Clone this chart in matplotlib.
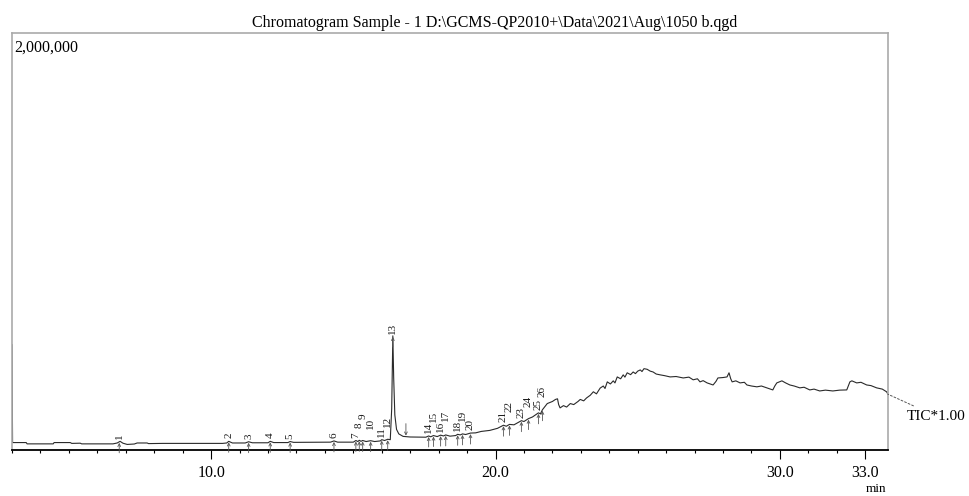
import numpy as np
import matplotlib
matplotlib.use("Agg")
import matplotlib.pyplot as plt
from matplotlib.ticker import MultipleLocator

plt.rcParams["font.family"] = ["Liberation Serif", "DejaVu Serif"]

# TIC trace (retention time in min, counts)
rt_min = [3.00, 3.02, 3.50, 3.53, 4.45, 4.48, 5.05, 5.10, 5.40, 5.45, 6.55, 6.70, 6.80, 6.90,
          7.05, 7.30, 7.40, 7.75, 7.80, 8.30, 10.40, 10.55, 10.62, 10.75, 11.20, 11.32, 11.45,
          12.00, 12.08, 12.20, 12.70, 12.78, 12.90, 14.20, 14.32, 14.45, 15.00, 15.09, 15.16,
          15.21, 15.27, 15.33, 15.45, 15.61, 15.75, 15.95, 16.00, 16.10, 16.21, 16.30, 16.35,
          16.39, 16.42, 16.46, 16.52, 16.60, 16.75, 17.00, 17.55, 17.65, 17.72, 17.82, 17.95,
          18.07, 18.17, 18.25, 18.40, 18.60, 18.67, 18.76, 18.84, 18.95, 19.12, 19.30, 19.50,
          19.80, 20.07, 20.28, 20.38, 20.49, 20.65, 20.91, 21.00, 21.16, 21.30, 21.51, 21.58,
          21.65, 21.82, 22.00, 22.11, 22.18, 22.22, 22.27, 22.39, 22.50, 22.63, 22.75, 22.90,
          22.98, 23.10, 23.20, 23.33, 23.44, 23.55, 23.68, 23.79, 23.85, 23.93, 24.04, 24.14,
          24.20, 24.28, 24.40, 24.49, 24.55, 24.63, 24.75, 24.84, 24.92, 25.00, 25.09, 25.15,
          25.22, 25.33, 25.44, 25.54, 25.65, 25.79, 25.95, 26.14, 26.35, 26.60, 26.80, 26.95,
          27.10, 27.19, 27.30, 27.44, 27.55, 27.65, 27.75, 27.82, 28.00, 28.14, 28.21, 28.27,
          28.32, 28.45, 28.60, 28.75, 28.84, 29.00, 29.19, 29.35, 29.54, 29.75, 29.82, 29.89,
          30.07, 30.20, 30.35, 30.50, 30.70, 30.85, 31.05, 31.20, 31.40, 31.60, 31.86, 32.10,
          32.35, 32.46, 32.53, 32.70, 32.85, 33.05, 33.20, 33.40, 33.60, 33.75, 33.80]
tic_counts = [490000, 16000, 16000, 9700, 9700, 16000, 16000, 12000, 13000, 9700, 9700, 14000,
              22000, 13000, 7000, 9000, 14000, 14000, 11000, 12000, 12000, 14000, 22000, 14000,
              14000, 20000, 15000, 15000, 22000, 16000, 16000, 21000, 17000, 18000, 24000, 18000,
              18000, 26000, 21000, 27000, 22000, 26000, 21000, 25000, 21000, 24000, 30000, 26000,
              32000, 30000, 180000, 533000, 330000, 150000, 80000, 58000, 46000, 43000, 42000,
              48000, 44000, 50000, 45000, 52000, 48000, 53000, 47000, 50000, 56000, 53000, 58000,
              55000, 62000, 63000, 70000, 75000, 85000, 100000, 95000, 104000, 102000, 122000,
              118000, 132000, 140000, 160000, 155000, 175000, 205000, 215000, 225000, 228000,
              200000, 184000, 195000, 188000, 205000, 200000, 215000, 225000, 218000, 232000,
              245000, 262000, 252000, 280000, 290000, 278000, 310000, 300000, 315000, 305000,
              334000, 325000, 344000, 333000, 354000, 345000, 358000, 350000, 362000, 368000,
              360000, 374000, 371000, 362000, 358000, 348000, 344000, 340000, 334000, 336000,
              329000, 333000, 320000, 325000, 310000, 316000, 305000, 300000, 295000, 312000,
              329000, 331000, 334000, 354000, 325000, 310000, 315000, 305000, 308000, 295000,
              290000, 286000, 290000, 281000, 271000, 290000, 305000, 315000, 305000, 295000,
              290000, 281000, 284000, 271000, 275000, 266000, 270000, 266000, 270000, 271000,
              310000, 315000, 305000, 308000, 295000, 292000, 281000, 275000, 262000, 250000]

# integrated peaks
peak_no = list(range(1, 27))
peak_rt = [6.77, 10.62, 11.32, 12.08, 12.78, 14.32, 15.09, 15.21, 15.33, 15.61, 16.00, 16.21,
           16.39, 17.65, 17.82, 18.07, 18.25, 18.67, 18.84, 19.12, 20.28, 20.49, 20.91, 21.16,
           21.51, 21.65]
peak13_end = 16.85

px = 2020000 / 417  # counts per pixel
lift = [3, 3, 3, 3, 3, 3, 3, 12, 22, 12, 3, 12, 2, 3, 14, 3, 14, 3, 13, 3, 3, 12, 3, 12, 3, 13]

fig = plt.figure(figsize=(9.69, 4.96), dpi=100)
ax = fig.add_axes([12 / 969, 1 - 450 / 496, 876 / 969, 417 / 496])

ax.plot(rt_min, tic_counts, color="#2a2a2a", lw=0.8)
ax.set_xlim(3.0, 33.8)
ax.set_ylim(-20000, 2000000)

for n, t, lf in zip(peak_no, peak_rt, lift):
    y = np.interp(t, rt_min, tic_counts)
    if n == 13:
        y = max(tic_counts)
    ax.text(t, y + lf * px, str(n), rotation=90, fontsize=8, ha="center", va="bottom",
            color="#1a1a1a")
    ax.annotate("", xy=(t, y - 1 * px), xytext=(t, y - 11 * px),
                arrowprops=dict(arrowstyle="->", lw=0.6, color="#555555", mutation_scale=5,
                                shrinkA=0, shrinkB=0), annotation_clip=False)

yend = np.interp(peak13_end, rt_min, tic_counts)
ax.annotate("", xy=(peak13_end, yend + 1 * px), xytext=(peak13_end, yend + 13 * px),
            arrowprops=dict(arrowstyle="->", lw=0.6, color="#555555", mutation_scale=5,
                            shrinkA=0, shrinkB=0))

ax.annotate("TIC*1.00", xy=(rt_min[-1], tic_counts[-1]), xytext=(19, -22),
            textcoords="offset pixels", fontsize=11, ha="left", va="center",
            arrowprops=dict(arrowstyle="-", linestyle=(0, (2, 2)), lw=0.7, color="#555555",
                            shrinkA=2, shrinkB=0), annotation_clip=False)

for s in ["left", "top", "right"]:
    ax.spines[s].set_color("#aaaaaa")
    ax.spines[s].set_linewidth(1.2)
ax.spines["bottom"].set_color("black")
ax.spines["bottom"].set_linewidth(1.3)

ax.set_yticks([])
ax.set_xticks([10, 20, 30, 33])
ax.set_xticklabels(["10.0", "20.0", "30.0", "33.0"], fontsize=11.5)
ax.xaxis.set_minor_locator(MultipleLocator(1))
ax.tick_params(axis="x", which="major", length=6.5, width=0.8, pad=4)
ax.tick_params(axis="x", which="minor", length=2.5, width=0.8)

ax.text(0.003, 0.985, "2,000,000", transform=ax.transAxes, fontsize=11.5, ha="left", va="top")
fig.text(495 / 969, 1 - 27 / 496,
         "Chromatogram Sample - 1 D:\\GCMS-QP2010+\\Data\\2021\\Aug\\1050 b.qgd",
         fontsize=11.5, ha="center", va="baseline")
fig.text(876 / 969, 1 / 496, "min", fontsize=9.5, ha="center", va="bottom")

fig.savefig("out.png", dpi=100)
